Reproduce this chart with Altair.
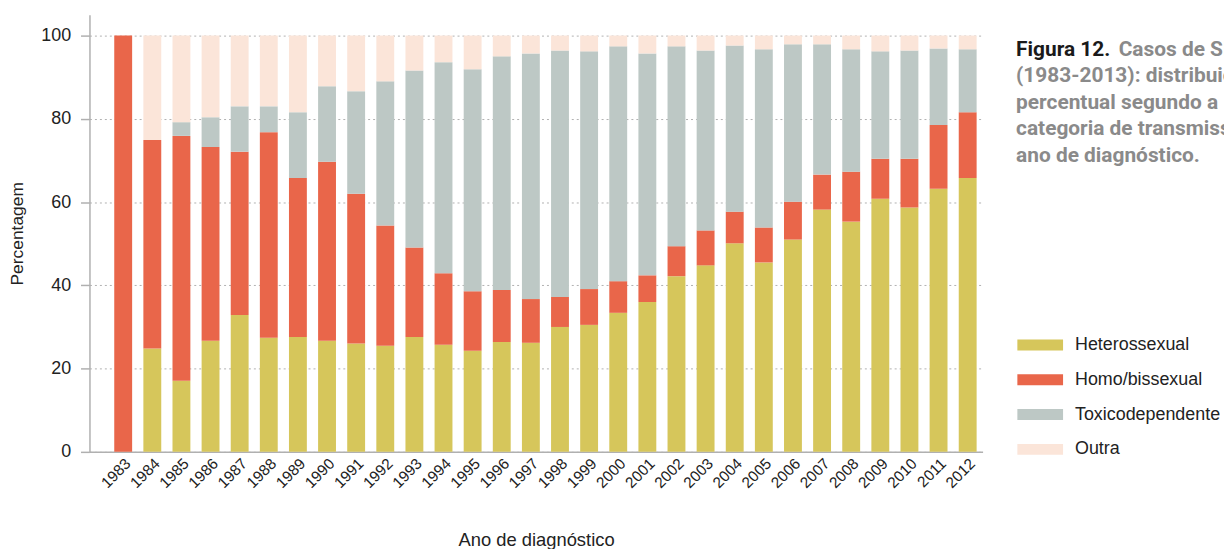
import altair as alt
import pandas as pd

years = [str(y) for y in range(1983, 2013)]
hetero = [0.0, 24.8, 17.1, 26.7, 32.9, 27.4, 27.6, 26.7, 26.0, 25.5,
          27.6, 25.7, 24.3, 26.4, 26.2, 30.0, 30.5, 33.4, 36.0, 42.2,
          44.8, 50.1, 45.5, 51.0, 58.2, 55.3, 60.8, 58.7, 63.2, 65.8]
homo = [100.0, 50.1, 58.8, 46.5, 39.2, 49.4, 38.2, 43.0, 36.0, 28.9,
        21.5, 17.2, 14.3, 12.5, 10.5, 7.2, 8.6, 7.6, 6.4, 7.2,
        8.4, 7.6, 8.4, 9.1, 8.4, 12.0, 9.6, 11.7, 15.3, 15.8]
toxico = [0.0, 0.0, 3.3, 7.2, 10.9, 6.2, 15.8, 18.1, 24.6, 34.6,
          42.5, 50.7, 53.3, 56.1, 59.0, 59.2, 57.1, 56.4, 53.3, 48.0,
          43.2, 39.9, 42.8, 37.8, 31.3, 29.4, 25.8, 26.0, 18.4, 15.1]
outra = [0.0, 25.1, 20.8, 19.6, 17.0, 17.0, 18.4, 12.2, 13.4, 11.0,
         8.4, 6.4, 8.1, 5.0, 4.3, 3.6, 3.8, 2.6, 4.3, 2.6,
         3.6, 2.4, 3.3, 2.1, 2.1, 3.3, 3.8, 3.6, 3.1, 3.3]
categories = ["Heterossexual", "Homo/bissexual", "Toxicodependente", "Outra"]
colors = ["#D6C65B", "#E9664A", "#BDC8C5", "#FBE5D9"]
y_ticks = [0, 20, 40, 60, 80, 100]
title_bold = "Figura 12."
title_lines = ["Casos de SIDA", "(1983-2013): distribuição", "percentual segundo a",
               "categoria de transmissão e", "ano de diagnóstico."]

rows = []
series = [hetero, homo, toxico, outra]
for i, yr in enumerate(years):
    for k, cat in enumerate(categories):
        rows.append({"Ano": yr, "Categoria": cat, "Valor": series[k][i], "ordem": k})
df = pd.DataFrame(rows)

FONT = "Liberation Sans"
AXIS_GREY = "#b0b0b0"

bars = alt.Chart(df).mark_bar().encode(
    x=alt.X("Ano:N", sort=years,
            scale=alt.Scale(paddingInner=0.386, paddingOuter=0.528, align=0.806),
            axis=alt.Axis(title="Ano de diagnóstico", labelAngle=315, labelAlign="right",
                          labelBaseline="top", labelPadding=4, ticks=False,
                          domainColor=AXIS_GREY, domainWidth=1.5,
                          labelFont=FONT, labelFontSize=15.5, labelColor="#222222",
                          titleFont=FONT, titleFontSize=18.5, titleFontWeight="normal",
                          titleColor="#222222", titleY=94, titleBaseline="alphabetic",
                          grid=False)),
    y=alt.Y("Valor:Q", stack="zero",
            scale=alt.Scale(domain=[0, 105], nice=False),
            axis=alt.Axis(title="Percentagem", values=y_ticks, grid=True,
                          gridDash=[2, 3], gridColor=AXIS_GREY, gridWidth=1,
                          domainColor=AXIS_GREY, domainWidth=1.5,
                          tickColor=AXIS_GREY, tickSize=9, tickWidth=1.5,
                          labelPadding=10, labelFont=FONT, labelFontSize=18,
                          labelColor="#222222", titleFont=FONT, titleFontSize=17.5,
                          titleFontWeight="normal", titleColor="#222222",
                          titlePadding=14)),
    color=alt.Color("Categoria:N", scale=alt.Scale(domain=categories, range=colors),
                    legend=alt.Legend(title=None, orient="none", legendX=945.5, legendY=321,
                                      symbolType="M-2,-0.48H2V0.48H-2Z", symbolSize=529,
                                      symbolStrokeWidth=0, labelOffset=23.5,
                                      rowPadding=14, padding=0, labelFont=FONT,
                                      labelFontSize=18, labelColor="#222222")),
    order=alt.Order("ordem:Q", sort="ascending"),
)

one_row = pd.DataFrame({"k": [0]})
layers = [bars]
TITLE_FONT = "Roboto"
layers.append(alt.Chart(one_row).mark_text(text=title_bold, font=TITLE_FONT, fontSize=21,
                                           fontWeight="bold", color="#1a1a1a", align="left",
                                           baseline="alphabetic").encode(
    x=alt.value(932.7), y=alt.value(41.3)))
line_x = [1036, 932.7, 932.7, 932.7, 932.7]
line_y = [41.3, 68.0, 94.7, 121.4, 148.1]
for txt, lx, ly in zip(title_lines, line_x, line_y):
    layers.append(alt.Chart(one_row).mark_text(text=txt, font=TITLE_FONT, fontSize=21,
                                               fontWeight="bold", color="#8a8a8a", align="left",
                                               baseline="alphabetic").encode(
        x=alt.value(lx), y=alt.value(ly)))

chart = alt.layer(*layers).properties(
    width=899, height=440,
    autosize=alt.AutoSizeParams(type="none"),
    padding={"left": 82, "top": 5, "right": 243, "bottom": 96},
).configure_view(stroke=None)

chart.save("out.html", embed_options={"renderer": "svg", "actions": False})
